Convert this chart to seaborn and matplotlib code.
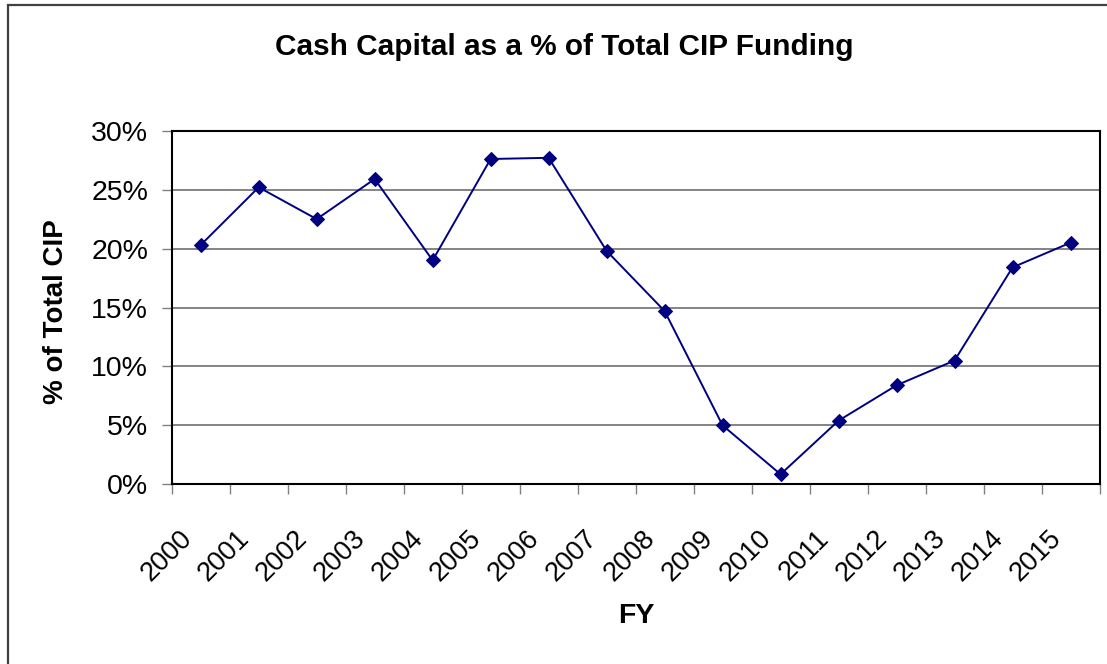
import matplotlib
matplotlib.use("Agg")
import matplotlib.pyplot as plt
import matplotlib.patches as mpatches
import matplotlib.transforms as mtransforms
from matplotlib.ticker import FixedLocator, PercentFormatter
import seaborn as sns
import pandas as pd

years = [2000, 2001, 2002, 2003, 2004, 2005, 2006, 2007,
         2008, 2009, 2010, 2011, 2012, 2013, 2014, 2015]
cash_pct = [20.3, 25.2, 22.5, 25.9, 19.0, 27.6, 27.7, 19.8,
            14.7, 5.0, 0.85, 5.4, 8.4, 10.5, 18.4, 20.5]
year_labels = [str(y) for y in years]

title = "Cash Capital as a % of Total CIP Funding"
x_label = "FY"
y_label = "% of Total CIP"

df = pd.DataFrame({"FY": years, "pct": cash_pct})

sns.set_theme(style="white")
plt.rcParams['font.family'] = ['Liberation Sans', 'DejaVu Sans']
plt.rcParams['text.color'] = 'black'
plt.rcParams['xtick.labelcolor'] = 'black'
plt.rcParams['ytick.labelcolor'] = 'black'

W, H, DPI = 1107, 664, 100
fig = plt.figure(figsize=(W / DPI, H / DPI), dpi=DPI)
fig.patch.set_facecolor("white")

# outer chart border
fig.patches.append(mpatches.Rectangle((8 / W, -0.05), 1.2, 1 - 5 / H + 0.05,
                                      transform=fig.transFigure, fill=False,
                                      edgecolor="#404040", linewidth=1.6))

left, right = 171.7 / W, 1099.5 / W
bottom, top = 1 - 484.3 / H, 1 - 130.7 / H
ax = fig.add_axes([left, bottom, right - left, top - bottom])

sns.lineplot(data=df, x="FY", y="pct", ax=ax, color="#000080",
             marker="D", markersize=7.5, markeredgecolor="#000080",
             linewidth=1.4)

ax.set_xlim(years[0] - 0.5, years[-1] + 0.5)
ax.set_ylim(0, 30)
ax.yaxis.set_major_locator(FixedLocator([0, 5, 10, 15, 20, 25, 30]))
ax.yaxis.set_major_formatter(PercentFormatter(decimals=0))
ax.grid(axis="y", color="#7a7a7a", linewidth=1.3)
ax.set_axisbelow(True)

ax.set_xticks(years)
ax.set_xticklabels(year_labels)
ax.xaxis.set_minor_locator(FixedLocator([y - 0.5 for y in years] + [years[-1] + 0.5]))
ax.tick_params(axis="x", which="major", length=0, pad=36, labelsize=19.5,
               labelcolor="black")
ax.tick_params(axis="x", which="minor", length=7, width=1, color="#808080",
               direction="out", bottom=True)
ax.tick_params(axis="y", which="major", length=7, width=1, color="#808080",
               direction="out", left=True, labelsize=20.5, pad=10,
               labelcolor="black")
shift = mtransforms.ScaledTranslation(-13 / DPI, 0, fig.dpi_scale_trans)
for lbl in ax.get_xticklabels():
    lbl.set_rotation(45)
    lbl.set_ha("right")
    lbl.set_va("center")
    lbl.set_rotation_mode("anchor")
    lbl.set_transform(lbl.get_transform() + shift)

for sp in ax.spines.values():
    sp.set_visible(True)
    sp.set_color("black")
    sp.set_linewidth(1.5)

ax.set_xlabel("")
ax.set_ylabel("")
fig.text(564 / W, 1 - 47 / H, title, ha="center", va="center",
         fontsize=21.4, fontweight="bold", color="black")
fig.text(636 / W, 1 - 616 / H, x_label, ha="center", va="center",
         fontsize=20.5, fontweight="bold", color="black")
fig.text(56 / W, 1 - 312 / H, y_label, ha="center", va="center",
         fontsize=20, fontweight="bold", rotation=90, color="black")

fig.savefig("out.png", dpi=DPI, facecolor="white")
